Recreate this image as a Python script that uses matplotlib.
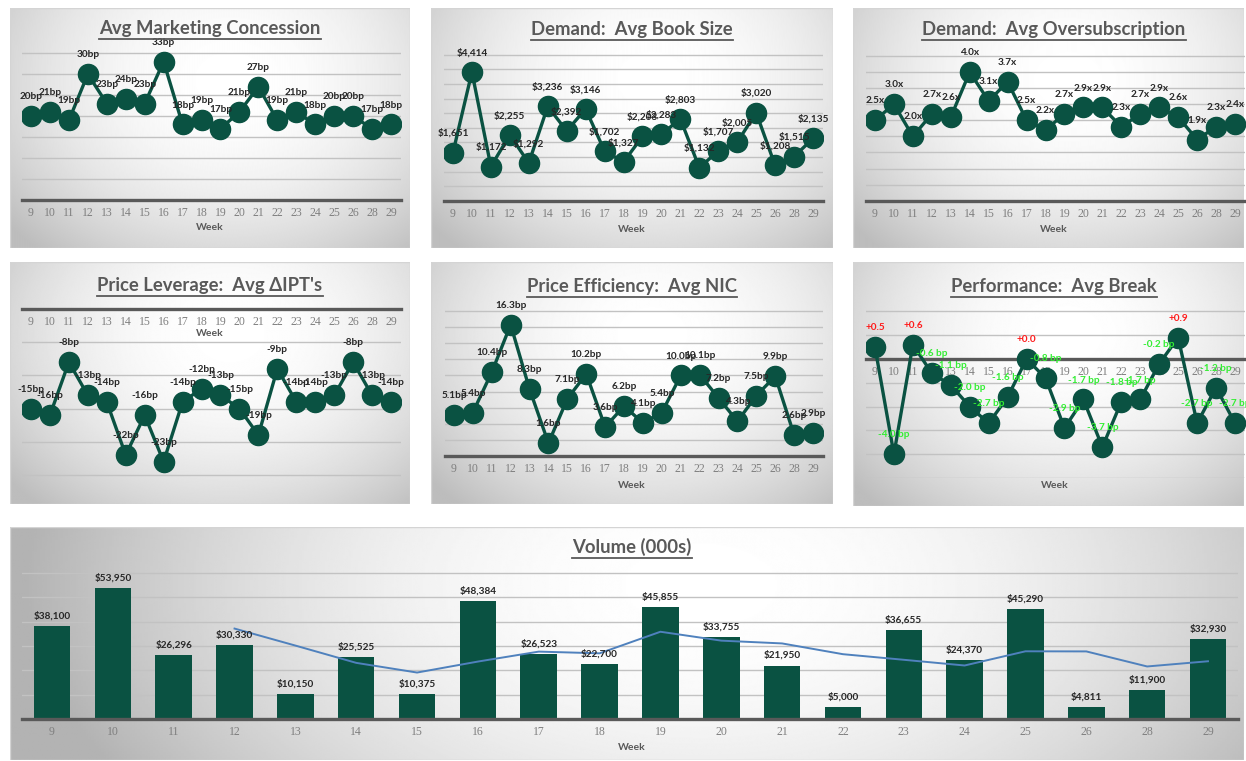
import numpy as np
import matplotlib
matplotlib.use('Agg')
import matplotlib.pyplot as plt
from matplotlib.lines import Line2D
from matplotlib.patches import Rectangle

plt.rcParams['font.family'] = ['Lato', 'DejaVu Sans']

W, H = 1246, 761
GREEN = '#0a5242'
DARK = '#595959'

weeks = ['9', '10', '11', '12', '13', '14', '15', '16', '17', '18',
         '19', '20', '21', '22', '23', '24', '25', '26', '28', '29']

concession = [20, 21, 19, 30, 23, 24, 23, 33, 18, 19, 17, 21, 27, 19, 21, 18, 20, 20, 17, 18]
book_size = [1651, 4414, 1172, 2255, 1292, 3236, 2392, 3146, 1702, 1327,
             2203, 2283, 2803, 1132, 1707, 2005, 3020, 1208, 1515, 2135]
oversub = [2.5, 3.0, 2.0, 2.7, 2.6, 4.0, 3.1, 3.7, 2.5, 2.2,
           2.7, 2.9, 2.9, 2.3, 2.7, 2.9, 2.6, 1.9, 2.3, 2.4]
ipt_change = [-15, -16, -8, -13, -14, -22, -16, -23, -14, -12,
              -13, -15, -19, -9, -14, -14, -13, -8, -13, -14]
nic = [5.1, 5.4, 10.4, 16.3, 8.3, 1.6, 7.1, 10.2, 3.6, 6.2,
       4.1, 5.4, 10.0, 10.1, 7.2, 4.3, 7.5, 9.9, 2.6, 2.9]
avg_break = [0.5, -4.0, 0.6, -0.6, -1.1, -2.0, -2.7, -1.6, 0.0, -0.8,
             -2.9, -1.7, -3.7, -1.8, -1.7, -0.2, 0.9, -2.7, -1.2, -2.7]
volume = [38100, 53950, 26296, 30330, 10150, 25525, 10375, 48384, 26523, 22700,
          45855, 33755, 21950, 5000, 36655, 24370, 45290, 4811, 11900, 32930]
# 4-week moving average trend, starts at week 12
volume_trend = [37169, 30182, 23075, 19095, 23609, 27702, 26996, 35866, 32208,
                31065, 26640, 24340, 21994, 27829, 27782, 21593, 23733]

fig = plt.figure(figsize=(W / 100, H / 100), dpi=100)
titles = []


def px_axes(x0, y0, x1, y1):
    return fig.add_axes([x0 / W, 1 - y1 / H, (x1 - x0) / W, (y1 - y0) / H])


def panel(x0, y0, x1, y1, cx=0.55, cy=0.3, rx=0.72, ry=0.95, edge=0.74):
    bg = px_axes(x0, y0, x1, y1)
    bg.set_axis_off()
    yy, xx = np.mgrid[0:1:240j, 0:1:480j]
    r = np.hypot((xx - cx) / rx, (yy - cy) / ry)
    shade = 1 - (1 - edge) * np.clip(r, 0, 1) ** 2
    bg.imshow(shade, cmap='gray', vmin=0, vmax=1, extent=(0, 1, 0, 1),
              aspect='auto', interpolation='bilinear')
    bg.add_patch(Rectangle((0, 0), 1, 1, transform=bg.transAxes, fill=False,
                           ec='#d4d4d4', lw=1))


def title(x, y, s):
    t = fig.text(x / W, 1 - y / H, s, ha='center', va='baseline', fontsize=13.3,
                 fontweight='bold', color=DARK)
    titles.append(t)


def week_label(x, y):
    fig.text(x / W, 1 - y / H, 'Week', ha='center', va='center', fontsize=7.5,
             fontweight='bold', color=DARK)


def style(ax, ylim, yticks):
    ax.patch.set_alpha(0)
    ax.set_xlim(-0.5, len(weeks) - 0.5)
    ax.set_ylim(*ylim)
    ax.set_yticks(yticks)
    ax.yaxis.grid(True, color='#c2c2c2', lw=1)
    ax.set_axisbelow(True)
    for s in ['left', 'right', 'top']:
        ax.spines[s].set_visible(False)
    ax.spines['bottom'].set_position(('data', 0))
    ax.spines['bottom'].set_color(DARK)
    ax.spines['bottom'].set_linewidth(2.4)
    ax.set_xticks(range(len(weeks)))
    ax.set_xticklabels(weeks, family='Liberation Serif', fontsize=8.5, color='#7f7f7f')
    ax.tick_params(length=0, labelleft=False, pad=5)


def line_panel(ax, vals, labels, colors=None):
    x = np.arange(len(vals))
    ax.plot(x, vals, color=GREEN, lw=2.4, marker='o', ms=14.5, zorder=3)
    if colors is None:
        colors = ['#262626'] * len(vals)
    for xi, v, s, c in zip(x, vals, labels, colors):
        ax.annotate(s, (xi, v), xytext=(0, 14), textcoords='offset points',
                    ha='center', va='center', fontsize=7.2, fontweight='bold',
                    color=c, zorder=4)


# panel backgrounds
panel(10, 8, 410, 248)
panel(431, 8, 833, 248)
panel(853, 8, 1244, 248)
panel(10, 262, 410, 504)
panel(431, 262, 833, 504)
panel(853, 262, 1244, 506)
panel(10, 527, 1244, 760, cx=0.56, cy=0.25, rx=0.55, ry=1.6, edge=0.7)

# Avg Marketing Concession
ax1 = px_axes(21.5, 49, 400.5, 200)
style(ax1, (0, 36), np.arange(0, 36, 5))
line_panel(ax1, concession, [f'{v}bp' for v in concession])
title(210, 34, 'Avg Marketing Concession')
week_label(210, 228)

# Avg Book Size
ax2 = px_axes(443.5, 52, 822.5, 200.7)
style(ax2, (0, 5100), np.arange(0, 5001, 500))
line_panel(ax2, book_size, [f'${v:,}' for v in book_size])
title(632, 35, 'Demand:  Avg Book Size')
week_label(632, 229)

# Avg Oversubscription
ax3 = px_axes(865.5, 52.8, 1244.5, 200.7)
style(ax3, (0, 4.6), np.arange(0, 4.6, 0.5))
line_panel(ax3, oversub, [f'{v:.1f}x' for v in oversub])
title(1054, 35, 'Demand:  Avg Oversubscription')
week_label(1054, 229)

# Avg change in IPTs
ax4 = px_axes(21.5, 309, 400.5, 481.6)
style(ax4, (-26, 0), np.arange(-25, 1, 5))
line_panel(ax4, ipt_change, [f'{v}bp' for v in ipt_change])
title(210, 291, "Price Leverage:  Avg \u0394IPT's")
week_label(210, 334)

# Avg NIC
ax5 = px_axes(444.5, 307, 822.5, 456)
style(ax5, (0, 18.5), np.arange(0, 19, 2))
line_panel(ax5, nic, [f'{v:.1f}bp' for v in nic])
title(632, 292, 'Price Efficiency:  Avg NIC')
week_label(632, 485)

# Avg Break
ax6 = px_axes(865.5, 309, 1244.5, 478)
style(ax6, (-5, 2.1), np.arange(-5, 3, 1))
brk_labels = [f'+{v:.1f}' if v >= 0 else f'{v:.1f} bp' for v in avg_break]
brk_colors = ['#ff1a1a' if v >= 0 else '#33ee33' for v in avg_break]
line_panel(ax6, avg_break, brk_labels, brk_colors)
title(1054, 292, 'Performance:  Avg Break')
week_label(1055, 486)

# Volume bars with moving average
ax7 = px_axes(21.6, 570.6, 1238.4, 719)
style(ax7, (0, 61000), np.arange(0, 60001, 10000))
x = np.arange(len(volume))
ax7.bar(x, volume, width=0.6, color=GREEN, zorder=2)
ax7.plot(x[3:], volume_trend, color='#4f81bd', lw=1.4, zorder=3)
for xi, v in zip(x, volume):
    ax7.annotate(f'${v:,}', (xi, v), xytext=(0, 4), textcoords='offset points',
                 ha='center', va='bottom', fontsize=7.2, fontweight='bold',
                 color='#262626', zorder=4)
title(632, 553, 'Volume (000s)')
week_label(632, 748)

# underline the titles
fig.canvas.draw()
renderer = fig.canvas.get_renderer()
for t in titles:
    bb = t.get_window_extent(renderer)
    yl = (bb.y0 - 1.5) / H
    fig.add_artist(Line2D([bb.x0 / W, bb.x1 / W], [yl, yl], color=DARK, lw=1.3))

fig.savefig('out.png', dpi=100)
